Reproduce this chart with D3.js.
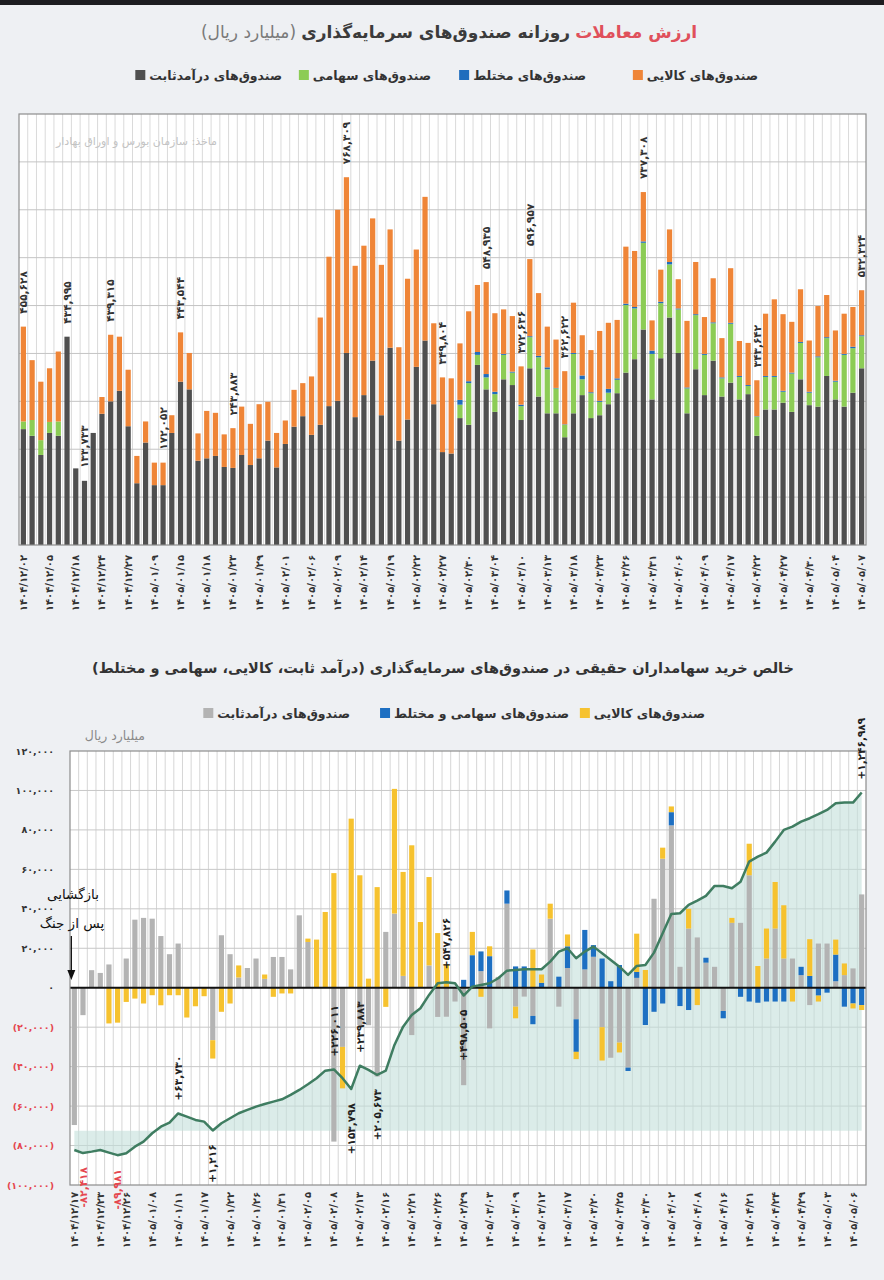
<!DOCTYPE html>
<html>
<head>
<meta charset="utf-8">
<script src="https://cdn.jsdelivr.net/npm/d3@7"></script>
<style>
  body { margin: 0; background: #eef0f3; }
  svg { display: block; font-family: "DejaVu Sans", sans-serif; }
</style>
</head>
<body>
<svg id="chart" width="884" height="1280"></svg>
<script>
// ---------- top chart: daily trading value (billion rial) ----------
var topTicks = ["۱۴۰۴/۱۲/۰۲","۱۴۰۴/۱۲/۰۵","۱۴۰۴/۱۲/۱۸","۱۴۰۴/۱۲/۲۴","۱۴۰۴/۱۲/۲۷","۱۴۰۵/۰۱/۰۹","۱۴۰۵/۰۱/۱۵",
  "۱۴۰۵/۰۱/۱۸","۱۴۰۵/۰۱/۲۳","۱۴۰۵/۰۱/۲۹","۱۴۰۵/۰۲/۰۱","۱۴۰۵/۰۲/۰۶","۱۴۰۵/۰۲/۰۹","۱۴۰۵/۰۲/۱۴","۱۴۰۵/۰۲/۱۹",
  "۱۴۰۵/۰۲/۲۲","۱۴۰۵/۰۲/۲۷","۱۴۰۵/۰۲/۳۰","۱۴۰۵/۰۳/۰۴","۱۴۰۵/۰۳/۱۰","۱۴۰۵/۰۳/۱۳","۱۴۰۵/۰۳/۱۸","۱۴۰۵/۰۳/۲۳",
  "۱۴۰۵/۰۳/۲۶","۱۴۰۵/۰۳/۳۱","۱۴۰۵/۰۴/۰۶","۱۴۰۵/۰۴/۰۹","۱۴۰۵/۰۴/۱۷","۱۴۰۵/۰۴/۲۲","۱۴۰۵/۰۴/۲۷","۱۴۰۵/۰۴/۳۰",
  "۱۴۰۵/۰۵/۰۴","۱۴۰۵/۰۵/۰۷"];

var topFixed = [242000,228000,188000,234000,228000,435000,160000,134000,234000,274000,
  300000,322000,248000,129000,214000,125000,125000,234000,341000,325000,
  176000,181000,186000,163000,161000,188000,167000,181000,218000,162000,
  211000,247000,269000,230000,251000,290000,301000,401000,267000,313000,
  385000,271000,412000,218000,262000,372000,427000,294000,194000,191000,
  265000,251000,376000,325000,278000,346000,334000,261000,369000,310000,
  275000,275000,225000,275000,313000,265000,271000,294000,317000,360000,
  388000,450000,304000,390000,475000,401000,275000,367000,313000,385000,
  310000,339000,304000,315000,228000,283000,283000,297000,278000,346000,
  292000,289000,353000,304000,289000,318000,369000];
var topEquity = [16000,33000,31000,23000,30000,0,0,0,0,0,
  0,0,0,0,0,0,0,0,0,0,
  0,0,0,0,0,0,0,0,0,0,
  0,0,0,0,0,0,0,0,0,0,
  0,0,0,0,0,0,0,0,0,0,
  28000,87000,21000,25000,37000,51000,26000,29000,65000,82000,
  92000,52000,26000,124000,33000,52000,28000,24000,28000,141000,
  106000,181000,95000,115000,111000,91000,52000,113000,84000,78000,
  38000,123000,47000,17000,40000,68000,68000,23000,80000,76000,
  26000,103000,79000,37000,108000,93000,67000];
var topMixed = [0,0,0,0,0,0,0,0,0,0,
  0,0,0,0,0,0,0,0,0,0,
  0,0,0,0,0,0,0,0,0,0,
  0,0,0,0,0,0,0,0,0,0,
  0,0,0,0,0,0,0,0,0,0,
  10000,4000,6000,7000,5000,2000,2000,3000,2000,3000,
  4000,1000,1000,2000,8000,2000,2000,8000,3000,3000,
  3000,3000,7000,3000,5000,2000,2000,2000,2000,2000,
  2000,2000,2000,2000,1000,2000,2000,2000,2000,2000,
  2000,2000,2000,2000,2000,3000,2000];
var topCommodity = [198000,125000,122000,112000,146000,0,0,0,0,35000,
  139000,113000,118000,57000,44000,47000,47000,37000,103000,76000,
  57000,99000,90000,68000,83000,101000,86000,113000,81000,72000,
  49000,77000,69000,122000,224000,312000,399000,367000,316000,312000,
  297000,314000,247000,195000,294000,245000,300000,169000,156000,157000,
  118000,146000,140000,192000,164000,93000,116000,80000,161000,131000,
  85000,101000,111000,105000,84000,88000,146000,138000,122000,119000,
  117000,103000,63000,67000,68000,61000,139000,109000,77000,92000,
  82000,114000,73000,88000,75000,130000,160000,160000,106000,110000,
  107000,105000,88000,105000,84000,83000,94000];
var topNotes = [{i:0,t:"۴۵۵,۶۲۸"},{i:5,t:"۴۳۴,۹۹۵"},{i:7,t:"۱۳۳,۷۳۳"},{i:10,t:"۴۳۹,۳۱۵"},
  {i:16,t:"۱۷۲,۰۵۲"},{i:18,t:"۴۴۳,۵۴۴"},{i:24,t:"۲۴۳,۸۸۳"},{i:37,t:"۷۶۸,۳۰۹"},
  {i:48,t:"۳۴۹,۸۰۴"},{i:53,t:"۵۴۸,۹۳۵"},{i:57,t:"۳۷۲,۶۳۶"},{i:58,t:"۵۹۶,۹۵۷"},
  {i:62,t:"۳۶۲,۶۲۲"},{i:71,t:"۷۳۷,۳۰۸"},{i:84,t:"۳۴۳,۶۴۲"},{i:96,t:"۵۳۲,۳۲۴"}];

// ---------- bottom chart: net purchase of individuals (billion rial) ----------
var botTicks = ["۱۴۰۴/۱۲/۱۷","۱۴۰۴/۱۲/۲۳","۱۴۰۴/۱۲/۲۶","۱۴۰۵/۰۱/۰۸","۱۴۰۵/۰۱/۱۱","۱۴۰۵/۰۱/۱۷","۱۴۰۵/۰۱/۲۲",
  "۱۴۰۵/۰۱/۲۶","۱۴۰۵/۰۱/۳۱","۱۴۰۵/۰۲/۰۵","۱۴۰۵/۰۲/۰۸","۱۴۰۵/۰۲/۱۳","۱۴۰۵/۰۲/۱۶","۱۴۰۵/۰۲/۲۱","۱۴۰۵/۰۲/۲۶",
  "۱۴۰۵/۰۲/۲۹","۱۴۰۵/۰۳/۰۳","۱۴۰۵/۰۳/۰۹","۱۴۰۵/۰۳/۱۲","۱۴۰۵/۰۳/۱۷","۱۴۰۵/۰۳/۲۰","۱۴۰۵/۰۳/۲۵","۱۴۰۵/۰۳/۳۰",
  "۱۴۰۵/۰۴/۰۲","۱۴۰۵/۰۴/۰۸","۱۴۰۵/۰۴/۱۶","۱۴۰۵/۰۴/۲۱","۱۴۰۵/۰۴/۲۴","۱۴۰۵/۰۴/۲۹","۱۴۰۵/۰۵/۰۳","۱۴۰۵/۰۵/۰۶"];

var botFixed = [-69600,-13900,8900,7500,11800,0,14800,34500,35400,35000,
  26200,17000,22400,0,0,0,-26600,26600,17000,5200,
  10000,14800,4500,15600,15600,9300,36700,23200,0,0,
  -78000,-30000,0,-19000,-19000,-45000,28300,37600,6000,-24000,
  0,11300,-14800,-14700,-7000,-49400,0,8400,-20600,5500,
  42600,-9600,-4500,-14300,0,35000,-9600,10000,-16000,9300,
  15700,-20000,-35500,-27800,-40500,5000,0,45100,65400,82300,
  10600,30000,25500,12700,10600,-11800,32900,32900,57000,0,
  14800,30000,14800,14800,6400,-8800,22400,22400,3300,6400,
  9800,47300];
var botEquityMixed = [0,0,0,0,0,0,0,0,0,0,
  0,0,0,0,0,0,0,0,0,0,
  0,0,0,0,0,0,0,0,0,0,
  0,0,0,0,0,0,0,0,0,0,
  0,0,0,0,0,4000,16500,10000,16000,0,
  6700,10800,10800,-4200,2500,0,5600,11000,-16500,20000,
  5900,14800,3300,11500,-1700,3000,-18900,-12200,-8000,6700,
  -9300,-11300,0,2500,0,-3700,0,-4600,-7000,-7600,
  -7000,-7000,-7000,0,4200,6000,-4000,-2500,13500,-9600,
  -8000,-8800];
var botCommodity = [0,0,0,0,-18100,-17700,-7200,-5500,-8000,-3800,
  -8900,-3800,-3800,-15100,-9400,-4300,-9300,-12200,-8000,6100,
  0,0,2200,-4600,-2900,-2900,0,1700,24400,38400,
  58100,-21000,85700,57000,4600,51000,-9700,63200,52700,72200,
  33300,44800,27700,12000,0,0,11800,-4600,5000,0,
  0,-5900,0,19400,4200,7600,0,6000,-3700,0,
  0,-16900,0,-5000,0,19400,9000,0,5600,2900,
  0,10000,-8800,0,0,0,2500,0,16000,11000,
  15200,23600,27000,-7000,0,18600,-3000,0,7600,5900,
  -2500,-2500];
var botCumulative = [-70800,-82418,-77000,-70800,-80700,-89981,-83000,-58600,-40200,-9200,
  15100,29900,63730,52000,39800,33600,1216,27700,46100,64500,
  76700,88900,98800,107300,116100,132000,150400,171400,193600,221600,
  226011,193600,153798,239883,224200,205673,221600,316300,383800,427000,
  451700,500700,543800,547826,543800,498505,531300,537600,543800,562300,
  590300,592900,595500,595500,595500,623500,660400,672900,636000,660400,
  678800,654400,629800,605000,574400,607600,611300,656700,728200,799300,
  801900,832500,848400,865700,902600,902600,894100,918400,992200,1010600,
  1025400,1065900,1109000,1121200,1139700,1152200,1166900,1182800,1207500,1209700,
  1209700,1246989];
var botNotes = [{i:1,t:"-۸۲,۴۱۸",side:"below",red:true},{i:5,t:"-۸۹,۹۸۱",side:"below",red:true},
  {i:12,t:"+۶۳,۷۳۰",side:"above"},{i:16,t:"+۱,۲۱۶",side:"below"},
  {i:30,t:"+۲۲۶,۰۱۱",side:"above"},{i:32,t:"+۱۵۳,۷۹۸",side:"below"},
  {i:33,t:"+۲۳۹,۸۸۳",side:"above"},{i:35,t:"+۲۰۵,۶۷۳",side:"below"},
  {i:43,t:"+۵۴۷,۸۲۶",side:"above"},{i:45,t:"+۴۹۸,۵۰۵",side:"below"},
  {i:91,t:"+۱,۲۴۶,۹۸۹",side:"above"}];

// ---------- helpers ----------
var fa = s => String(s).replace(/\d/g, d => "۰۱۲۳۴۵۶۷۸۹"[d]);
var R = s => "\u200F" + s + "\u200F";
var svg = d3.select("#chart");

svg.append("rect").attr("width", 884).attr("height", 1280).attr("fill", "#eef0f3");
svg.append("rect").attr("width", 884).attr("height", 5).attr("fill", "#1d1d20");

// right-to-left run of coloured pieces, centred on cx
function rtlLine(parts, cx, y, size) {
  var g = svg.append("g");
  var x = 0;
  parts.forEach(p => {
    var t = g.append("text").attr("x", x).attr("y", y).attr("text-anchor", "end")
      .attr("font-size", size).attr("font-weight", p.weight || "normal")
      .attr("fill", p.fill).text(R(p.text));
    x -= t.node().getComputedTextLength() + size * 0.3;
  });
  var w = -x - size * 0.3;
  g.attr("transform", "translate(" + (cx + w / 2) + ",0)");
}

function legend(items, y) {
  items.forEach(d => {
    var t = svg.append("text").attr("x", d.right).attr("y", y + 4.5).attr("text-anchor", "end")
      .attr("font-size", 12.5).attr("font-weight", "bold").attr("fill", "#333").text(R(d.text));
    var w = t.node().getComputedTextLength();
    svg.append("rect").attr("x", d.right - w - 14).attr("y", y - 5).attr("width", 10).attr("height", 10)
      .attr("fill", d.color);
  });
}

// ================= TOP CHART =================
rtlLine([{text: "ارزش معاملات", fill: "#e0505b", weight: "bold"},
         {text: "روزانه صندوق‌های سرمایه‌گذاری", fill: "#3b3b3b", weight: "bold"},
         {text: "(میلیارد ریال)", fill: "#7a7a7a"}], 449, 38, 17);

legend([{text: "صندوق‌های کالایی", color: "#ef8537", right: 758},
        {text: "صندوق‌های مختلط", color: "#1f6dbd", right: 586},
        {text: "صندوق‌های سهامی", color: "#8ccc55", right: 431},
        {text: "صندوق‌های درآمدثابت", color: "#4f4f4f", right: 282}], 75);

var tL = 19, tR = 866, tT = 114, tB = 545;
var xT = d3.scaleBand().domain(d3.range(topFixed.length)).range([tL, tR])
  .paddingInner(0.4).paddingOuter(0.2);
var yT = d3.scaleLinear().domain([0, 900000]).range([tB, tT]);

svg.append("rect").attr("x", tL).attr("y", tT).attr("width", tR - tL).attr("height", tB - tT).attr("fill", "#fff");

var stepT = xT.step();
svg.append("g").selectAll("line").data(d3.range(1, topFixed.length)).enter().append("line")
  .attr("x1", i => xT(i) - stepT * 0.2).attr("x2", i => xT(i) - stepT * 0.2)
  .attr("y1", tT).attr("y2", tB).attr("stroke", "#dadada").attr("stroke-width", 1);
svg.append("g").selectAll("line").data(yT.ticks(9).slice(1, -1)).enter().append("line")
  .attr("x1", tL).attr("x2", tR).attr("y1", d => yT(d)).attr("y2", d => yT(d))
  .attr("stroke", "#c4c4c4").attr("stroke-width", 1);

svg.append("text").attr("x", 217).attr("y", 145).attr("text-anchor", "end")
  .attr("font-size", 11).attr("fill", "#c3c3c3").text(R("ماخذ: سازمان بورس و اوراق بهادار"));

var topRows = topFixed.map((v, i) => ({i: i, fixed: v, equity: topEquity[i], mixed: topMixed[i], commodity: topCommodity[i]}));
var topKeys = ["fixed", "equity", "mixed", "commodity"];
var topColor = {fixed: "#4f4f4f", equity: "#8ccc55", mixed: "#1f6dbd", commodity: "#ef8537"};
var topStack = d3.stack().keys(topKeys)(topRows);

svg.append("g").selectAll("g").data(topStack).enter().append("g")
  .attr("fill", d => topColor[d.key])
  .selectAll("rect").data(d => d).enter().append("rect")
  .attr("x", d => xT(d.data.i)).attr("width", xT.bandwidth())
  .attr("y", d => yT(d[1])).attr("height", d => Math.max(0, yT(d[0]) - yT(d[1])));

var topTotal = i => topFixed[i] + topEquity[i] + topMixed[i] + topCommodity[i];
svg.append("g").selectAll("text").data(topNotes).enter().append("text")
  .attr("transform", d => "translate(" + (xT(d.i) + xT.bandwidth() / 2) + "," + (yT(topTotal(d.i)) - 13) + ") rotate(-90)")
  .attr("dy", "0.35em").attr("font-size", 10.5).attr("font-weight", "bold").attr("fill", "#333")
  .text(d => d.t);

svg.append("rect").attr("x", tL).attr("y", tT).attr("width", tR - tL).attr("height", tB - tT)
  .attr("fill", "none").attr("stroke", "#8d8d8d").attr("stroke-width", 1.2);

var axT = svg.append("g").attr("transform", "translate(0," + tB + ")")
  .call(d3.axisBottom(xT).tickValues(d3.range(0, topFixed.length, 3)).tickSize(0)
    .tickFormat(i => topTicks[i / 3]));
axT.select(".domain").remove();
axT.selectAll("text").attr("transform", "rotate(-90)").attr("text-anchor", "end")
  .attr("x", -10).attr("y", 0).attr("dy", "0.35em")
  .attr("font-size", 10).attr("font-weight", "bold").attr("fill", "#333")
  .attr("font-family", "DejaVu Sans");

// ================= BOTTOM CHART =================
svg.append("text").attr("x", 443).attr("y", 673).attr("text-anchor", "middle")
  .attr("font-size", 14.5).attr("font-weight", "bold").attr("fill", "#333")
  .text(R("خالص خرید سهامداران حقیقی در صندوق‌های سرمایه‌گذاری (درآمد ثابت، کالایی، سهامی و مختلط)"));

legend([{text: "صندوق‌های کالایی", color: "#f6c22f", right: 705},
        {text: "صندوق‌های سهامی و مختلط", color: "#1d6fc2", right: 569},
        {text: "صندوق‌های درآمدثابت", color: "#b3b3b3", right: 350}], 713);

svg.append("text").attr("x", 145).attr("y", 740).attr("text-anchor", "end")
  .attr("font-size", 12.5).attr("fill", "#8a8a8a").text(R("میلیارد ریال"));

var bL = 70, bR = 866, bT = 751, bB = 1185;
var xB = d3.scaleBand().domain(d3.range(botFixed.length)).range([bL, bR])
  .paddingInner(0.4).paddingOuter(0.2);
var yB = d3.scaleLinear().domain([-100000, 120000]).range([bB, bT]);
var yC = d3.scaleLinear().domain([-200000, 1400000]).range([bB, bT]);

svg.append("rect").attr("x", bL).attr("y", bT).attr("width", bR - bL).attr("height", bB - bT).attr("fill", "#fff");

var stepB = xB.step();
svg.append("g").selectAll("line").data(d3.range(1, botFixed.length)).enter().append("line")
  .attr("x1", i => xB(i) - stepB * 0.2).attr("x2", i => xB(i) - stepB * 0.2)
  .attr("y1", bT).attr("y2", bB).attr("stroke", "#d6d6d6").attr("stroke-width", 1);
svg.append("g").selectAll("line").data(yB.ticks(11).filter(d => d !== 0 && d > -100000 && d < 120000)).enter().append("line")
  .attr("x1", bL).attr("x2", bR).attr("y1", d => yB(d)).attr("y2", d => yB(d))
  .attr("stroke", "#c8c8c8").attr("stroke-width", 1);

var cx = i => xB(i) + xB.bandwidth() / 2;
svg.append("path").datum(botCumulative)
  .attr("fill", "#c3dfda").attr("fill-opacity", 0.6)
  .attr("d", d3.area().x((d, i) => cx(i)).y0(yC(0)).y1(d => yC(d)));

var botRows = botFixed.map((v, i) => ({i: i, fixed: v, eq: botEquityMixed[i], com: botCommodity[i]}));
var botKeys = ["fixed", "eq", "com"];
var botColor = {fixed: "#b3b3b3", eq: "#1d6fc2", com: "#f6c22f"};
var botStack = d3.stack().keys(botKeys).offset(d3.stackOffsetDiverging)(botRows);

svg.append("g").selectAll("g").data(botStack).enter().append("g")
  .attr("fill", d => botColor[d.key])
  .selectAll("rect").data(d => d).enter().append("rect")
  .attr("x", d => xB(d.data.i)).attr("width", xB.bandwidth())
  .attr("y", d => yB(Math.max(d[0], d[1]))).attr("height", d => Math.abs(yB(d[0]) - yB(d[1])));

svg.append("line").attr("x1", bL).attr("x2", bR).attr("y1", yB(0)).attr("y2", yB(0))
  .attr("stroke", "#111").attr("stroke-width", 2);

svg.append("path").datum(botCumulative).attr("fill", "none")
  .attr("stroke", "#3f7d61").attr("stroke-width", 2.5).attr("stroke-linejoin", "round")
  .attr("d", d3.line().x((d, i) => cx(i)).y(d => yC(d)));

svg.append("rect").attr("x", bL).attr("y", bT).attr("width", bR - bL).attr("height", bB - bT)
  .attr("fill", "none").attr("stroke", "#8d8d8d").attr("stroke-width", 1.2);

svg.append("g").selectAll("text").data(botNotes).enter().append("text")
  .attr("transform", d => "translate(" + cx(d.i) + "," + (yC(botCumulative[d.i]) + (d.side === "above" ? -13 : 14)) + ") rotate(-90)")
  .attr("text-anchor", d => d.side === "above" ? "start" : "end")
  .attr("dy", "0.35em").attr("font-size", 10.5).attr("font-weight", "bold")
  .attr("fill", d => d.red ? "#e5474f" : "#222").text(d => d.t);

var ayB = svg.append("g").attr("transform", "translate(" + bL + ",0)")
  .call(d3.axisLeft(yB).tickValues(d3.range(-100000, 120001, 20000)).tickSize(0).tickPadding(16)
    .tickFormat(d => d < 0 ? "(" + fa(d3.format(",")(-d)) + ")" : fa(d3.format(",")(d))));
ayB.select(".domain").remove();
ayB.selectAll("text").attr("font-size", 9.5).attr("font-weight", "bold").attr("font-family", "DejaVu Sans")
  .attr("fill", d => d < 0 ? "#e5474f" : "#333");

var axB = svg.append("g").attr("transform", "translate(0," + bB + ")")
  .call(d3.axisBottom(xB).tickValues(d3.range(0, botFixed.length - 1, 3)).tickSize(0)
    .tickFormat(i => botTicks[i / 3]));
axB.select(".domain").remove();
axB.selectAll("text").attr("transform", "rotate(-90)").attr("text-anchor", "end")
  .attr("x", -7).attr("y", 0).attr("dy", "0.35em")
  .attr("font-size", 10).attr("font-weight", "bold").attr("fill", "#333")
  .attr("font-family", "DejaVu Sans");

// reopening note
svg.append("text").attr("x", 73).attr("y", 899).attr("text-anchor", "middle")
  .attr("font-size", 13.5).attr("fill", "#111").text(R("بازگشایی"));
svg.append("text").attr("x", 72).attr("y", 928).attr("text-anchor", "middle")
  .attr("font-size", 13.5).attr("fill", "#111").text(R("پس از جنگ"));
svg.append("line").attr("x1", cx(0) - 3).attr("x2", cx(0) - 3).attr("y1", 936).attr("y2", 972)
  .attr("stroke", "#111").attr("stroke-width", 1.3);
svg.append("path").attr("d", "M" + (cx(0) - 7) + ",970 L" + (cx(0) + 1) + ",970 L" + (cx(0) - 3) + ",980 Z")
  .attr("fill", "#111");
</script>
</body>
</html>
